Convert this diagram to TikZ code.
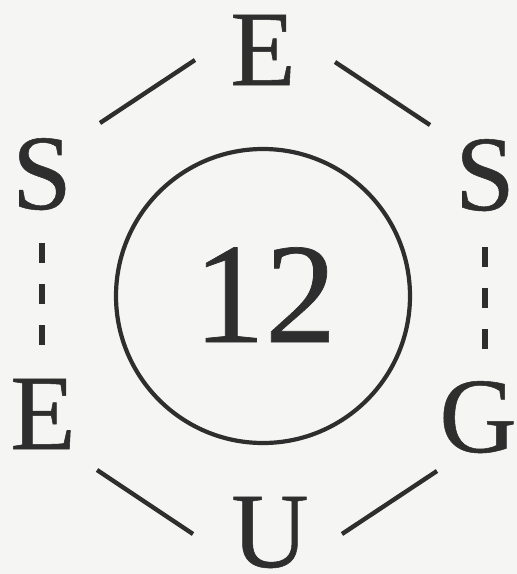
\documentclass[tikz,border=0pt]{standalone}
\usepackage{fontspec}
\setmainfont{Liberation Serif}
\newfontfamily\scanfont[FakeBold=0.5]{Liberation Serif}
\definecolor{paper}{HTML}{F5F5F3}
\definecolor{ink}{HTML}{2E2E2E}
\tikzset{
  letter/.style={inner sep=0pt, outer sep=0pt, anchor=base, text=ink,
    font=\scanfont\fontsize{107}{107}\selectfont},
  bond/.style={draw=ink, line width=4.4pt},
  dbond/.style={draw=ink, line width=6.5pt, dash pattern=on 20pt off 21pt},
  ring/.style={draw=ink, line width=4.2pt},
}
\begin{document}
\begin{tikzpicture}[x=1pt,y=-1pt]
  \fill[paper] (0,0) rectangle (517,574);
  \useasboundingbox (0,0) rectangle (517,574);
  % letters
  \node[letter] (Et) at (263,85) {E};
  \node[letter] (Sl) at (42,209) {S};
  \node[letter] (Sr) at (485,210) {S};
  \node[letter] (El) at (43,449) {E};
  \node[letter] (G)  at (478,452) {G};
  \node[letter] (U)  at (270,567) {U};
  % ring
  \node[ring, circle, minimum size=294pt, inner sep=0pt] (ring) at (263,296) {};
  \node[letter, font=\scanfont\fontsize{143}{143}\selectfont] (n12) at (265,342) {12};
  % solid bonds
  \coordinate (a1) at (100,123); \coordinate (a2) at (195,60);
  \coordinate (b1) at (335,62);  \coordinate (b2) at (430,125);
  \coordinate (c1) at (97,470);  \coordinate (c2) at (193,534);
  \coordinate (d1) at (342,534); \coordinate (d2) at (437,471);
  \draw[bond] (a1) -- (a2);
  \draw[bond] (b1) -- (b2);
  \draw[bond] (c1) -- (c2);
  \draw[bond] (d1) -- (d2);
  % dashed bonds
  \coordinate (sl) at (Sl.center |- 0,243);
  \coordinate (el) at (Sl.center |- 0,348);
  \coordinate (sr) at (Sr.center |- 0,247);
  \coordinate (gr) at (Sr.center |- 0,350);
  \draw[dbond] (sl) -- (el);
  \draw[dbond] (sr) -- (gr);
\end{tikzpicture}
\end{document}
